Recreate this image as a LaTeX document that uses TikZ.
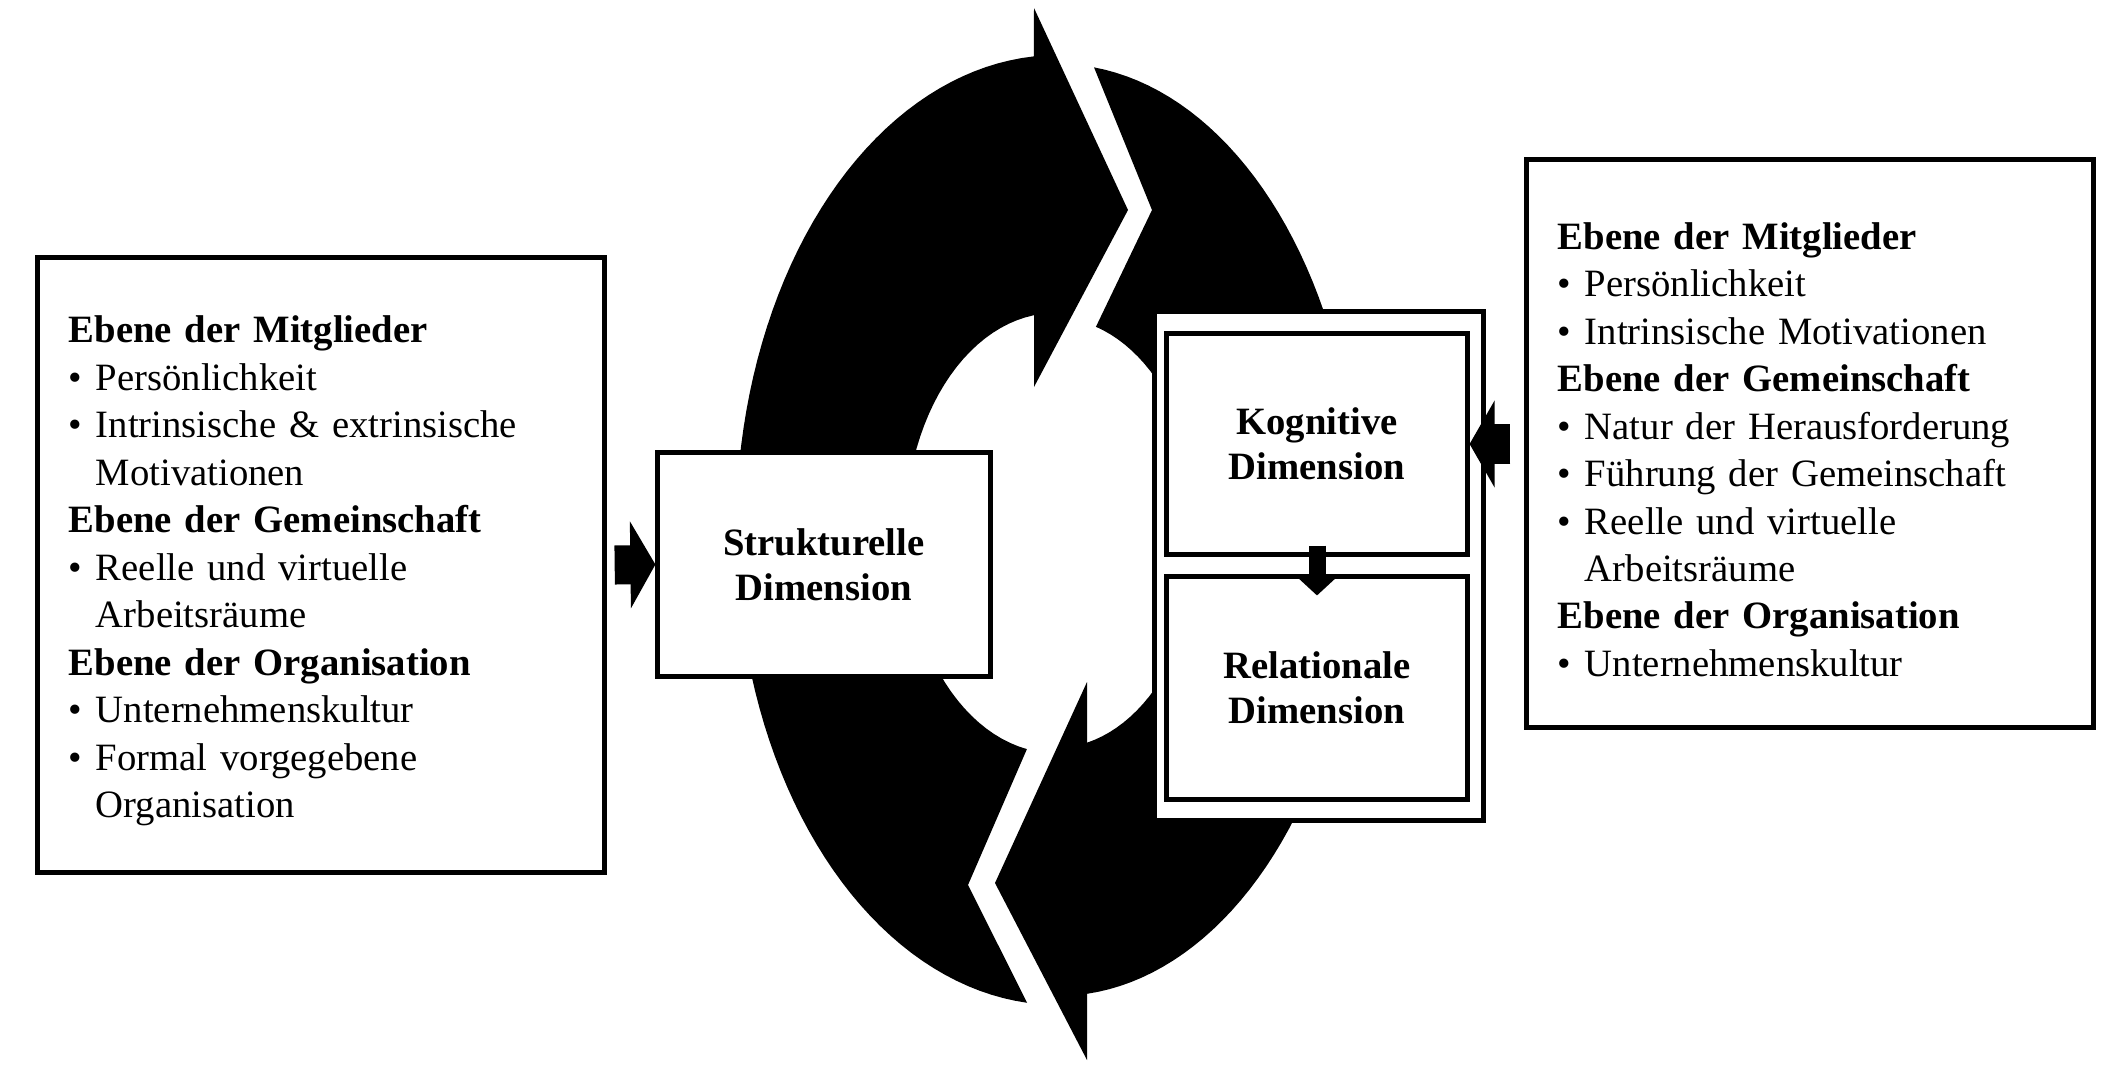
\documentclass[tikz,border=0pt]{standalone}
\usepackage{fontspec}
\setmainfont{Liberation Serif}
\usetikzlibrary{arrows.meta}
\definecolor{cycink}{HTML}{000000}
\definecolor{cycpaper}{HTML}{FFFFFF}

% bullet item and its continuation line
\newcommand{\itm}[1]{\makebox[0.27cm][l]{\textbullet}#1}
\newcommand{\cnt}[1]{\hspace*{0.27cm}#1}

\begin{document}
\begin{tikzpicture}[
  x=0.01cm, y=-0.01cm,
  font=\rmfamily,
  listbox/.style={
    draw=cycink, fill=cycpaper, text=cycink, line width=0.05cm,
    align=left, font=\rmfamily\fontsize{11}{13.5}\selectfont,
    text width=5.04cm, inner xsep=0.31cm,
    execute at begin node={\rule{0pt}{0.39cm}}
  },
  dimbox/.style={
    draw=cycink, fill=cycpaper, text=cycink, line width=0.05cm,
    align=center, font=\rmfamily\bfseries\fontsize{11}{12.8}\selectfont,
    minimum width=3.0cm, minimum height=2.2cm
  },
  dimframe/.style={draw=cycink, fill=cycpaper, line width=0.05cm, minimum width=3.28cm, minimum height=5.08cm},
  ring/.style={fill=cycink},
  push/.style={draw=cycink, line width=0.39cm, -{Triangle[length=0.25cm,width=0.86cm]}},
  pushdown/.style={draw=cycink, line width=0.17cm, -{Triangle[length=0.19cm,width=0.40cm]}},
]
\useasboundingbox (0,0) rectangle (2123,1081);

% ---- cycle, left half (arrow at the top) ----
\fill[ring] (968,885)
  -- plot[domain=100.8:261.95, samples=50] ({1055+150*cos(\x)},{533+220*sin(\x)})
  -- (1034,387) -- (1128,210) -- (1034,8)
  -- plot[domain=265.7:95.5, samples=80] ({1058+322*cos(\x)},{530+475*sin(\x)})
  -- cycle;

% ---- cycle, right half (arrow at the bottom) ----
\fill[ring] (1152,210)
  -- plot[domain=-73.6:77.25, samples=50] ({1055+145*cos(\x)},{533+215*sin(\x)})
  -- (1087,682) -- (995,883) -- (1087,1060)
  -- plot[domain=84.47:-83.13, samples=80] ({1058+301*cos(\x)},{530+466*sin(\x)})
  -- cycle;

% ---- dimension boxes ----
\node[dimbox, minimum width=3.32cm, minimum height=2.23cm] (struk) at (824,564.5) {Strukturelle\\Dimension};
\node[dimframe] (pair) at (1319,566) {};
\node[dimbox] (kog) at (1317,444) {Kognitive\\Dimension};
\node[dimbox, minimum height=2.22cm] (rel) at (1317,688) {Relationale\\Dimension};

% ---- factor lists ----
\node[listbox, minimum height=6.14cm] (left) at (321,565) {%
  \textbf{Ebene der Mitglieder}\\
  \itm{Persönlichkeit}\\
  \itm{Intrinsische \& extrinsische}\\
  \cnt{Motivationen}\\
  \textbf{Ebene der Gemeinschaft}\\
  \itm{Reelle und virtuelle}\\
  \cnt{Arbeitsräume}\\
  \textbf{Ebene der Organisation}\\
  \itm{Unternehmenskultur}\\
  \itm{Formal vorgegebene}\\
  \cnt{Organisation}};

\node[listbox, minimum height=5.67cm] (right) at (1810,443.5) {%
  \textbf{Ebene der Mitglieder}\\
  \itm{Persönlichkeit}\\
  \itm{Intrinsische Motivationen}\\
  \textbf{Ebene der Gemeinschaft}\\
  \itm{Natur der Herausforderung}\\
  \itm{Führung der Gemeinschaft}\\
  \itm{Reelle und virtuelle}\\
  \cnt{Arbeitsräume}\\
  \textbf{Ebene der Organisation}\\
  \itm{Unternehmenskultur}};

% ---- influence arrows ----
\draw[push] ([xshift=0.08cm]left.east) -- (struk.west);
\draw[push] ([xshift=-0.14cm]right.west |- kog.east) -- (kog.east);
\draw[pushdown] ([yshift=0.11cm]kog.south) -- ([yshift=-0.21cm]rel.north);

\end{tikzpicture}
\end{document}
